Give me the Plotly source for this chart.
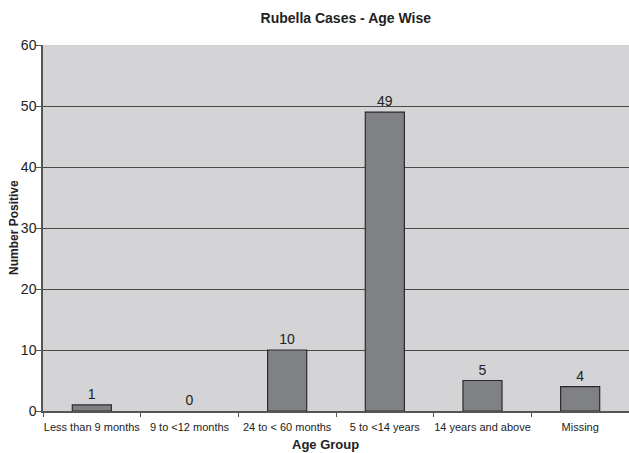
import plotly.graph_objects as go

age_groups = ["Less than 9 months", "9 to <12 months", "24 to < 60 months",
              "5 to <14 years", "14 years and above", "Missing"]
positives = [1, 0, 10, 49, 5, 4]

# a zero count draws no visible bar outline
outline_widths = [1.2 if v > 0 else 0 for v in positives]

W, H = 629, 453

fig = go.Figure(
    go.Bar(
        x=age_groups,
        y=positives,
        width=0.4,
        marker=dict(color="#808184", line=dict(color="#2b2b2b", width=outline_widths)),
        text=[str(v) for v in positives],
        textposition="outside",
        textfont=dict(family="Liberation Sans, Arial", size=14, color="#222"),
        cliponaxis=False,
    )
)

fig.update_layout(
    width=W,
    height=H,
    margin=dict(l=43, r=0, t=45, b=42),
    paper_bgcolor="white",
    plot_bgcolor="#d4d4d6",
    showlegend=False,
    font=dict(family="Liberation Sans, Arial", color="#222"),
    title=dict(
        text="<b>Rubella Cases - Age Wise</b>",
        x=325 / W, xanchor="center", xref="paper",
        y=1 - 18 / H, yanchor="middle",
        font=dict(size=14, color="#222"),
    ),
    bargap=0.6,
    annotations=[
        dict(
            text="<b>Number Positive</b>",
            xref="paper", yref="paper",
            x=-29 / (W - 43), y=0.5,
            xanchor="center", yanchor="middle",
            textangle=-90, showarrow=False,
            font=dict(size=12, color="#222"),
        ),
        dict(
            text="<b>Age Group</b>",
            xref="paper", yref="paper",
            x=(325 - 43) / (W - 43), y=-33 / (H - 45 - 42),
            xanchor="center", yanchor="middle",
            showarrow=False,
            font=dict(size=13, color="#222"),
        ),
    ],
)

fig.update_yaxes(
    range=[0, 60],
    dtick=10,
    automargin=False,
    showgrid=True,
    gridcolor="#4a4a4a",
    gridwidth=1.2,
    zeroline=False,
    showline=True,
    linecolor="#555",
    linewidth=1.5,
    ticks="outside",
    ticklen=5,
    tickcolor="#555",
    tickfont=dict(size=14, color="#222"),
    ticklabelstandoff=-3,
)

fig.update_xaxes(
    automargin=False,
    tickangle=0,
    showgrid=False,
    showline=True,
    linecolor="#555",
    linewidth=1.5,
    ticks="outside",
    tickson="boundaries",
    ticklen=4,
    tickcolor="#555",
    tickfont=dict(size=11, color="#222"),
    ticklabelstandoff=5,
)

fig.write_html("out.html")
